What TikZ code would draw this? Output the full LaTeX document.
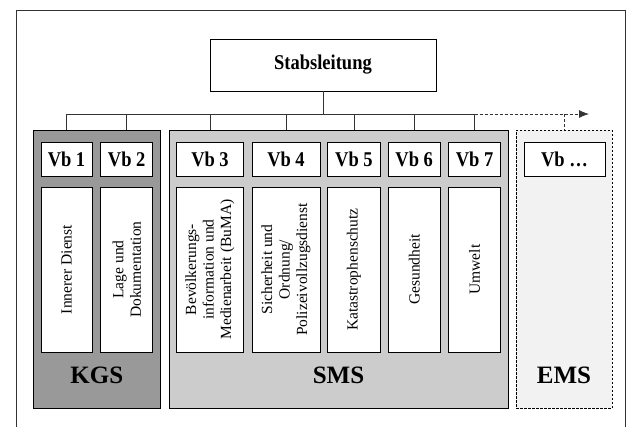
\documentclass[tikz,border=0pt]{standalone}
\usepackage{fontspec}
\setmainfont{Liberation Serif}
\usetikzlibrary{arrows.meta}

\definecolor{kgsgray}{gray}{0.6}
\definecolor{smsgray}{gray}{0.8}
\definecolor{emsgray}{gray}{0.95}

\newcommand{\narrow}[1]{\scalebox{0.88}[1]{#1}}

\tikzset{
    vbbox/.style={draw, fill=white, line width=0.9pt, minimum height=34pt, inner sep=0pt,
        font=\fontsize{21}{23}\selectfont\bfseries},
    descbox/.style={draw, fill=white, line width=0.9pt, minimum height=165pt, inner sep=0pt},
    desctext/.style={rotate=90, align=center, inner sep=0pt,
        font=\fontsize{15.5}{17.5}\selectfont},
    groupbox/.style={draw, line width=0.9pt, minimum height=278pt, inner sep=0pt},
    grouplabel/.style={font=\fontsize{25}{27}\selectfont\bfseries},
    link/.style={line width=0.8pt, draw=black!80},
}

\begin{document}
\begin{tikzpicture}[x=1pt, y=-1pt]
    \useasboundingbox (0, 0) rectangle (629, 426);

    % draw outer frame
    \draw[line width=1pt, black!80] (16, 440) -- (16, 10) -- (625, 10) -- (625, 440);

    % draw head
    \node[draw, line width=0.9pt, minimum width=226pt, minimum height=52pt,
        font=\fontsize{21}{23}\selectfont\bfseries] (stab) at (323, 65) {\narrow{Stabsleitung}};

    % draw groups
    \node[groupbox, fill=kgsgray, minimum width=127.5pt] (kgs) at (96.75, 269) {};
    \node[groupbox, fill=smsgray, minimum width=339pt] (sms) at (338.5, 269) {};
    \node[groupbox, fill=emsgray, dash pattern=on 2.5pt off 1.5pt, minimum width=96pt] (ems) at (564, 269) {};
    \node[grouplabel] (kgslabel) at (kgs |- 0, 375) {KGS};
    \node[grouplabel] (smslabel) at (sms |- 0, 375) {SMS};
    \node[grouplabel] (emslabel) at (ems |- 0, 375) {EMS};

    % draw sections with their tasks
    \foreach \n/\cx/\w/\txt in {
        1/66.5/51/{Innerer Dienst},
        2/126.7/52/{Lage und\\Dokumentation},
        3/210/66.6/{Bevölkerungs-\\information und\\Medienarbeit (BuMA)},
        4/286/68/{Sicherheit und\\Ordnung/\\Polizeivollzugsdienst},
        5/353.9/52.3/{Katastrophenschutz},
        6/414.2/51.7/{Gesundheit},
        7/474.5/52.4/{Umwelt}} {
        \node[vbbox, minimum width=\w pt] (vb\n) at (\cx, 159) {\narrow{Vb \n}};
        \node[descbox, minimum width=\w pt] (task\n) at (\cx, 269.5) {};
        \node[desctext] (tasktext\n) at (task\n) {\txt};
    }
    \node[vbbox, minimum width=81pt] (vbx) at (564.5, 159) {\narrow{Vb …}};

    % draw connectors
    \coordinate (bus) at (323, 114);
    \coordinate (busend) at (589, 114);
    \draw[link] (stab.south) -- (bus);
    \draw[link] (vb1 |- bus) -- (vb7 |- bus);
    \foreach \n in {1, ..., 7} {
        \draw[link] (vb\n |- bus) -- (vb\n |- kgs.north);
    }
    \draw[link, dash pattern=on 3pt off 2pt, -{Latex[length=10pt, width=8pt]}] (vb7 |- bus) -- (busend);
    \draw[link, dash pattern=on 3pt off 2pt] (vbx |- bus) -- (vbx |- ems.north);
\end{tikzpicture}
\end{document}
